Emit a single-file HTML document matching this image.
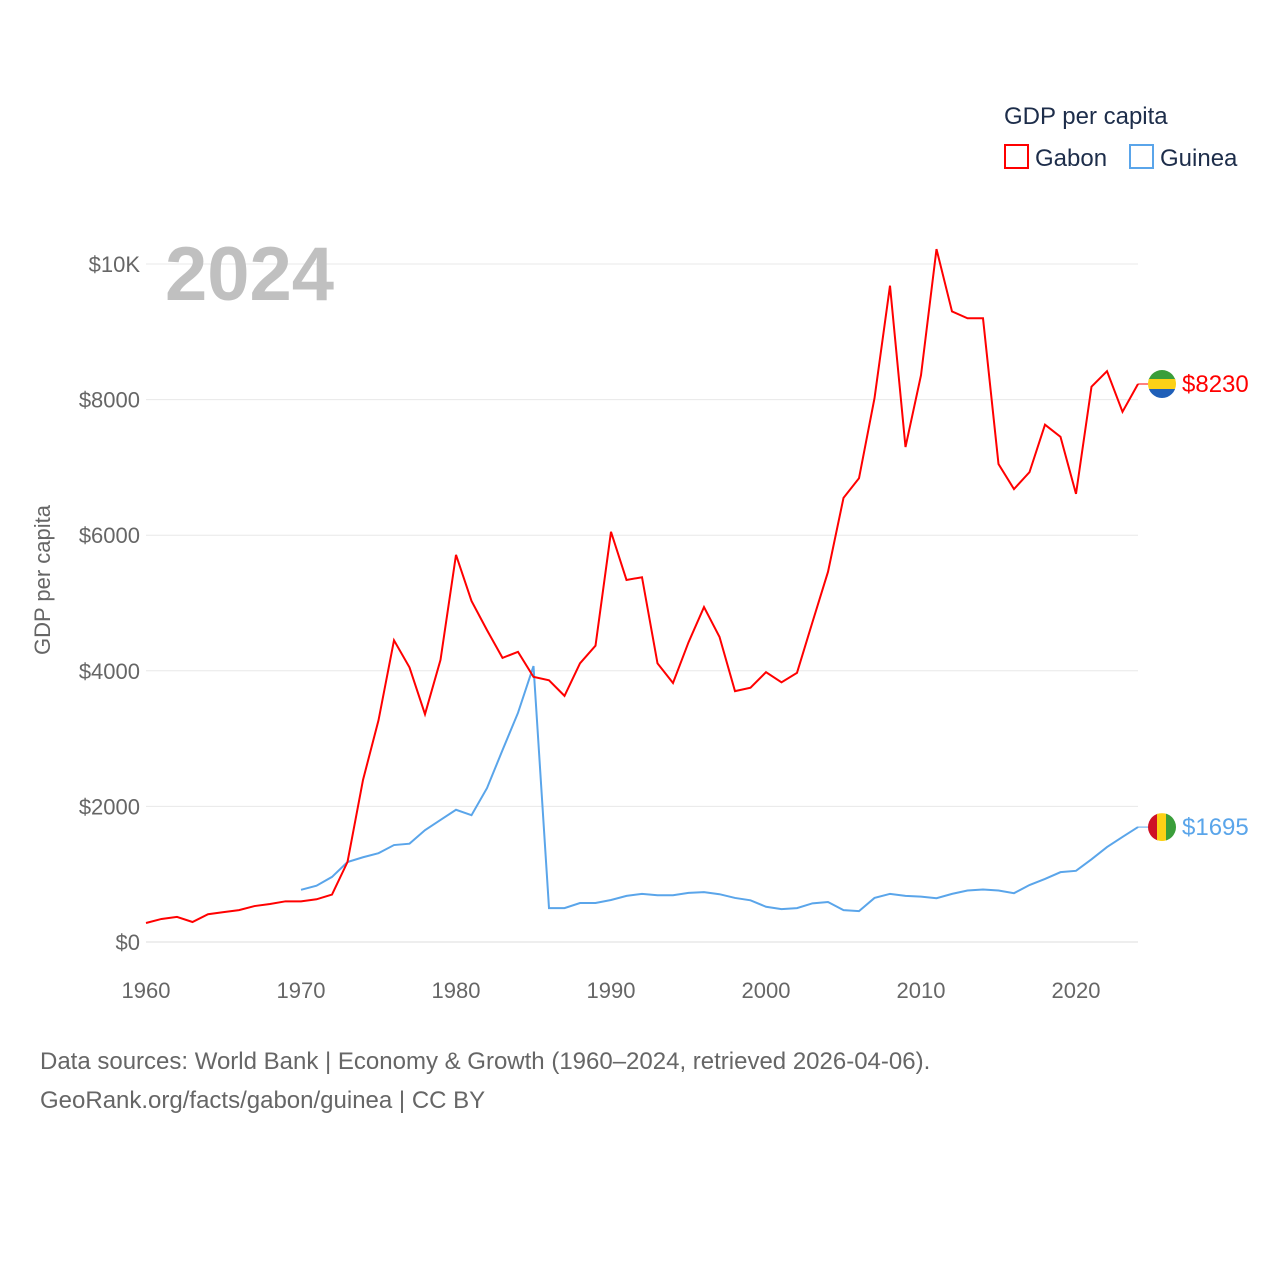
<!DOCTYPE html>
<html><head><meta charset="utf-8">
<style>
body{margin:0;background:#fff;font-family:"Liberation Sans",sans-serif;}
svg text{font-family:"Liberation Sans",sans-serif;}
</style></head>
<body>
<svg id="chart" width="1280" height="1280" viewBox="0 0 1280 1280" xmlns="http://www.w3.org/2000/svg">
<rect width="1280" height="1280" fill="#fff"/>
<g id="grid"></g>
<g id="xticks"></g>
<text x="165" y="300" font-size="76" font-weight="bold" fill="#c0c0c0">2024</text>
<text transform="translate(50,580) rotate(-90)" text-anchor="middle" font-size="22" fill="#666">GDP per capita</text>
<g id="series"></g>
<text x="1004" y="124" font-size="24" fill="#1d2d4a">GDP per capita</text>
<g><rect x="1005" y="145" width="23" height="23" fill="none" stroke="#ff0000" stroke-width="2"/><text x="1035" y="166" font-size="24" fill="#1d2d4a">Gabon</text></g>
<g><rect x="1130" y="145" width="23" height="23" fill="none" stroke="#5aa5ea" stroke-width="2"/><text x="1160" y="166" font-size="24" fill="#1d2d4a">Guinea</text></g>
<text x="40" y="1069" font-size="24" fill="#666">Data sources: World Bank | Economy &amp; Growth (1960–2024, retrieved 2026-04-06).</text>
<text x="40" y="1108" font-size="24" fill="#666">GeoRank.org/facts/gabon/guinea | CC BY</text>
</svg>
<script>
const years=[];for(let y=1960;y<=2024;y++)years.push(y);
const gabon=[280,340,370,295,410,440,470,530,560,600,600,630,700,1180,2390,3270,4450,4050,3360,4160,5710,5030,4600,4190,4280,3910,3860,3630,4110,4370,6050,5340,5380,4110,3820,4420,4940,4500,3700,3750,3980,3830,3970,4720,5460,6550,6840,8020,9680,7300,8360,10220,9300,9200,9200,7050,6680,6930,7630,7450,6610,8190,8420,7820,8230];
const guineaYears=[];for(let y=1970;y<=2024;y++)guineaYears.push(y);
const guinea=[770,830,960,1180,1250,1310,1430,1450,1650,1800,1950,1870,2270,2830,3380,4070,500,500,575,575,620,680,710,690,690,725,735,705,650,615,520,485,500,570,590,470,455,650,710,680,670,645,710,760,775,760,720,840,930,1030,1050,1220,1400,1550,1695];
const yTicks=[0,2000,4000,6000,8000,10000];
const yTickLabels=["$0","$2000","$4000","$6000","$8000","$10K"];
const xTicks=[1960,1970,1980,1990,2000,2010,2020];
const NS="http://www.w3.org/2000/svg";
const X=y=>146+(y-1960)*15.5;
const Y=v=>942-v*0.0678;
const grid=document.getElementById('grid');
yTicks.forEach((t,i)=>{
 const l=document.createElementNS(NS,'line');
 
 
 l.setAttribute('x1',146);l.setAttribute('x2',1138);l.setAttribute('y1',Y(t));l.setAttribute('y2',Y(t));
 l.setAttribute('stroke',t===0?'#ddd':'#e8e8e8');l.setAttribute('stroke-width',1);
 grid.appendChild(l);
 const tx=document.createElementNS(NS,'text');
 
 
 tx.setAttribute('x',140);tx.setAttribute('y',Y(t)+8);tx.setAttribute('text-anchor','end');
 tx.setAttribute('font-size',22);tx.setAttribute('fill','#666');tx.textContent=yTickLabels[i];
 grid.appendChild(tx);
});
const xg=document.getElementById('xticks');
xTicks.forEach(t=>{
 const tx=document.createElementNS(NS,'text');
 
 
 tx.setAttribute('x',X(t));tx.setAttribute('y',998);tx.setAttribute('text-anchor','middle');
 tx.setAttribute('font-size',22);tx.setAttribute('fill','#666');tx.textContent=t;
 xg.appendChild(tx);
});
const sg=document.getElementById('series');
function line(xs,vs,color,name){
 const p=document.createElementNS(NS,'polyline');
 
 
 p.setAttribute('points',xs.map((y,i)=>X(y)+','+Y(vs[i])).join(' '));
 p.setAttribute('fill','none');p.setAttribute('stroke',color);p.setAttribute('stroke-width',2);
 sg.appendChild(p);
}
line(guineaYears,guinea,'#5aa5ea','guinea-line');
line(years,gabon,'#ff0000','gabon-line');
function endLabel(v,color,name,flag){
 const y=Y(v);
 const c=document.createElementNS(NS,'g');
 
 
 let html='<line x1="1138" x2="1148" y1="'+y+'" y2="'+y+'" stroke="'+color+'" stroke-width="1"/>';
 html+='<clipPath id="cp'+name+'"><circle cx="1162" cy="'+y+'" r="14"/></clipPath><g clip-path="url(#cp'+name+')">'+flag(y)+'</g>';
 html+='<text x="1182" y="'+(y+8)+'" font-size="24" fill="'+color+'">$'+v+'</text>';
 c.innerHTML=html;sg.appendChild(c);
}
endLabel(gabon[gabon.length-1],'#ff0000','gabon-end-label',y=>
 '<rect x="1148" y="'+(y-14)+'" width="28" height="10" fill="#3a9e3a"/><rect x="1148" y="'+(y-5)+'" width="28" height="10" fill="#fcd116"/><rect x="1148" y="'+(y+5)+'" width="28" height="10" fill="#1f5fb8"/>');
endLabel(guinea[guinea.length-1],'#5aa5ea','guinea-end-label',y=>
 '<rect x="1148" y="'+(y-14)+'" width="10" height="28" fill="#ce1126"/><rect x="1157" y="'+(y-14)+'" width="10" height="28" fill="#fcd116"/><rect x="1166" y="'+(y-14)+'" width="10" height="28" fill="#3a9e3a"/>');
</script>
</body></html>
